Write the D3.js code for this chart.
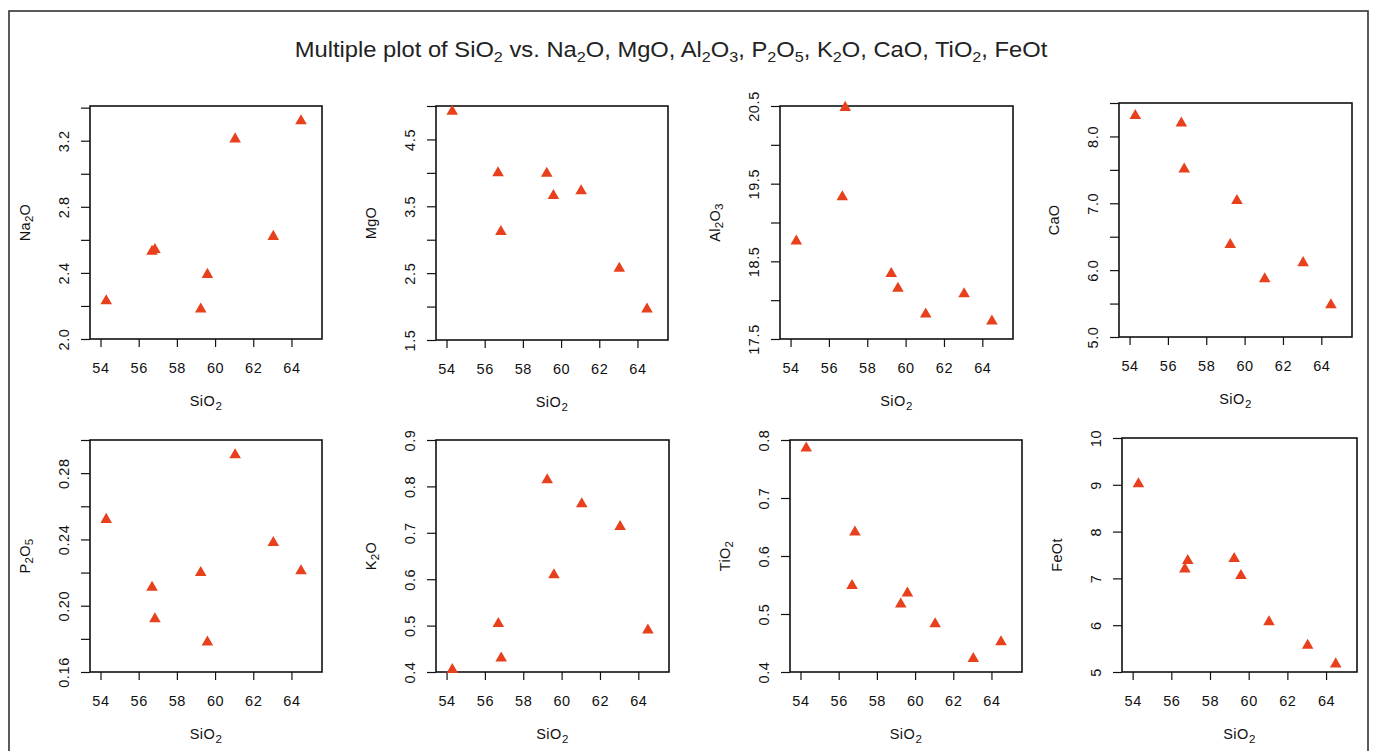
<!DOCTYPE html>
<html><head><meta charset="utf-8">
<script src="https://cdn.jsdelivr.net/npm/d3@7"></script>
<style>
body{margin:0;background:#fff;}
svg{display:block;}
text{font-family:"Liberation Sans",Arial,Helvetica,sans-serif;fill:#111;}
</style>
</head><body>
<svg id="chart" width="1373" height="751"></svg>
<script>
// ---- data ----
const sio2  = [54.3, 56.7, 56.85, 59.25, 59.6, 61.05, 63.05, 64.5];
const na2o  = [2.23, 2.53, 2.54, 2.18, 2.39, 3.21, 2.62, 3.32];
const mgo   = [4.92, 4.00, 3.12, 3.99, 3.66, 3.73, 2.57, 1.96];
const al2o3 = [18.76, 19.33, 20.48, 18.34, 18.15, 17.82, 18.08, 17.73];
const cao   = [8.31, 8.20, 7.51, 6.38, 7.04, 5.87, 6.11, 5.48];
const p2o5  = [0.252, 0.211, 0.192, 0.220, 0.178, 0.291, 0.238, 0.221];
const k2o   = [0.405, 0.504, 0.430, 0.814, 0.609, 0.762, 0.713, 0.490];
const tio2  = [0.786, 0.549, 0.641, 0.517, 0.536, 0.483, 0.423, 0.452];
const feot  = [9.02, 7.20, 7.38, 7.42, 7.06, 6.07, 5.57, 5.17];

const xTicks = [54, 56, 58, 60, 62, 64];
const xDomain = [53.45, 65.6];

const na2oTicks  = [2.0, 2.2, 2.4, 2.6, 2.8, 3.0, 3.2, 3.4];
const na2oLabels = [2.0, 2.4, 2.8, 3.2];
const mgoTicks   = [1.5, 2.0, 2.5, 3.0, 3.5, 4.0, 4.5, 5.0];
const mgoLabels  = [1.5, 2.5, 3.5, 4.5];
const al2o3Ticks = [17.5, 18.0, 18.5, 19.0, 19.5, 20.0, 20.5];
const al2o3Labels= [17.5, 18.5, 19.5, 20.5];
const caoTicks   = [5.0, 5.5, 6.0, 6.5, 7.0, 7.5, 8.0, 8.5];
const caoLabels  = [5.0, 6.0, 7.0, 8.0];
const p2o5Ticks  = [0.16, 0.18, 0.20, 0.22, 0.24, 0.26, 0.28, 0.30];
const p2o5Labels = [0.16, 0.20, 0.24, 0.28];
const k2oTicks   = [0.4, 0.5, 0.6, 0.7, 0.8, 0.9];
const tio2Ticks  = [0.4, 0.5, 0.6, 0.7, 0.8];
const feotTicks  = [5, 6, 7, 8, 9, 10];

const panels = [
  {values: na2o,  label: [["Na"],["2",1],["O"]],          yDomain:[2.0, 3.41],  ticks: na2oTicks,  labels: na2oLabels,  fmt: d3.format(".1f")},
  {values: mgo,   label: [["MgO"]],                       yDomain:[1.5, 5.0],   ticks: mgoTicks,   labels: mgoLabels,   fmt: d3.format(".1f")},
  {values: al2o3, label: [["Al"],["2",1],["O"],["3",1]],  yDomain:[17.5, 20.5], ticks: al2o3Ticks, labels: al2o3Labels, fmt: d3.format(".1f")},
  {values: cao,   label: [["CaO"]],                       yDomain:[5.0, 8.5],   ticks: caoTicks,   labels: caoLabels,   fmt: d3.format(".1f")},
  {values: p2o5,  label: [["P"],["2",1],["O"],["5",1]],   yDomain:[0.16, 0.30], ticks: p2o5Ticks,  labels: p2o5Labels,  fmt: d3.format(".2f")},
  {values: k2o,   label: [["K"],["2",1],["O"]],           yDomain:[0.4, 0.9],   ticks: k2oTicks,   labels: k2oTicks,    fmt: d3.format(".1f")},
  {values: tio2,  label: [["TiO"],["2",1]],               yDomain:[0.4, 0.8],   ticks: tio2Ticks,  labels: tio2Ticks,   fmt: d3.format(".1f")},
  {values: feot,  label: [["FeOt"]],                      yDomain:[5, 10],      ticks: feotTicks,  labels: feotTicks,   fmt: d3.format("d")}
];

const titleSegs = [["Multiple plot of SiO"],["2",1],[" vs. Na"],["2",1],["O, MgO, Al"],["2",1],["O"],["3",1],
  [", P"],["2",1],["O"],["5",1],[", K"],["2",1],["O, CaO, TiO"],["2",1],[", FeOt"]];
const xLabelSegs = [["SiO"],["2",1]];

// ---- layout (plot boxes) ----
const boxes = [
  {x0:90,  y0:106, x1:322,  y1:339},
  {x0:436, y0:106, x1:668,  y1:340},
  {x0:780, y0:106, x1:1013, y1:339},
  {x0:1119,y0:103, x1:1352, y1:337},
  {x0:90,  y0:440, x1:322,  y1:672},
  {x0:436, y0:440, x1:669,  y1:672},
  {x0:790, y0:440, x1:1022, y1:672},
  {x0:1122,y0:438, x1:1357, y1:672}
];

const svg = d3.select("#chart");
const pointColor = "#e8401c";

function rich(sel, segs, size, subSize, shift) {
  let down = false;
  segs.forEach(s => {
    const isSub = !!s[1];
    const t = sel.append("tspan").text(s[0]);
    if (isSub) { t.attr("font-size", subSize); if (!down) { t.attr("dy", shift); down = true; } }
    else { t.attr("font-size", size); if (down) { t.attr("dy", -shift); down = false; } }
  });
  return sel;
}

// outer frame
svg.append("rect").attr("x", 9).attr("y", 11).attr("width", 1359).attr("height", 760)
  .attr("fill", "none").attr("stroke", "#333").attr("stroke-width", 1.6);

// title
const tg = svg.append("g").attr("transform", "translate(671,57)");
const tt = tg.append("text").attr("text-anchor", "middle").attr("font-size", 22).style("fill", "#222");
rich(tt, titleSegs, 22, 15, 5);
const tw = tt.node().getComputedTextLength();
tg.attr("transform", `translate(671,57) scale(${753 / tw},1)`);

panels.forEach((p, i) => {
  const b = boxes[i];
  const x = d3.scaleLinear().domain(xDomain).range([b.x0, b.x1]);
  const y = d3.scaleLinear().domain(p.yDomain).range([b.y1, b.y0]);
  const g = svg.append("g");

  // x axis
  const xa = d3.axisBottom(x).tickValues(xTicks).tickSize(8).tickPadding(6).tickFormat(d3.format("d"));
  const gx = g.append("g").attr("transform", `translate(0,${b.y1})`).call(xa);
  gx.select(".domain").remove();
  gx.selectAll("line").attr("stroke", "#111").attr("stroke-width", 1.2);
  gx.selectAll("text").attr("font-size", 14.5).attr("font-family", '"Liberation Sans",Arial,sans-serif')
    .attr("fill", "#111").attr("y", 0).attr("dy", null).attr("letter-spacing", 0.6)
    .attr("transform", "translate(0,29)").attr("dominant-baseline", "central");

  // y axis
  const labelSet = new Set(p.labels.map(v => +v.toFixed(4)));
  const ya = d3.axisLeft(y).tickValues(p.ticks).tickSize(9)
    .tickFormat(v => labelSet.has(+v.toFixed(4)) ? p.fmt(v) : "");
  const gy = g.append("g").attr("transform", `translate(${b.x0},0)`).call(ya);
  gy.select(".domain").remove();
  gy.selectAll("line").attr("stroke", "#111").attr("stroke-width", 1.2);
  gy.selectAll("text").attr("font-size", 14.5).attr("font-family", '"Liberation Sans",Arial,sans-serif')
    .attr("fill", "#111").attr("x", null).attr("dy", null).attr("text-anchor", "middle").attr("letter-spacing", 0.6)
    .attr("dominant-baseline", "central").attr("transform", "translate(-26,0) rotate(-90)");

  // box
  g.append("rect").attr("x", b.x0).attr("y", b.y0).attr("width", b.x1 - b.x0).attr("height", b.y1 - b.y0)
    .attr("fill", "none").attr("stroke", "#111").attr("stroke-width", 1.6);

  // points
  g.append("g").selectAll("path").data(p.values).join("path")
    .attr("d", d3.symbol().type(d3.symbolTriangle).size(58))
    .attr("transform", (d, j) => `translate(${x(sio2[j])},${y(d)})`)
    .attr("fill", pointColor);

  // x label
  const xl = g.append("text").attr("x", (b.x0 + b.x1) / 2).attr("y", b.y1 + 67)
    .attr("text-anchor", "middle").attr("letter-spacing", 0.5);
  rich(xl, xLabelSegs, 14.5, 11.5, 4);

  // y label
  const yl = g.append("text").attr("text-anchor", "middle").attr("dominant-baseline", "central")
    .attr("letter-spacing", 0.3)
    .attr("transform", `translate(${b.x0 - 65},${(b.y0 + b.y1) / 2}) rotate(-90)`);
  rich(yl, p.label, 14.5, 11.5, 4);
});
</script>
</body></html>
